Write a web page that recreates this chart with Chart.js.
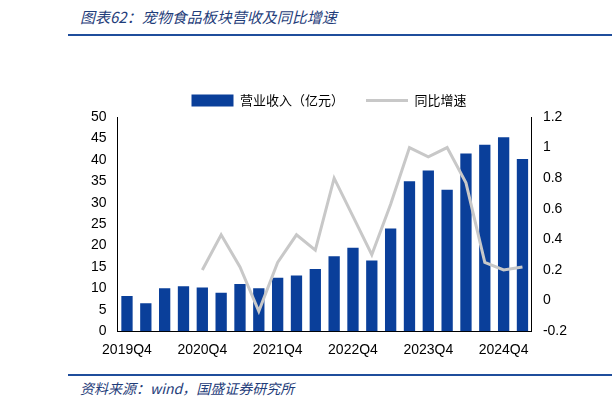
<!DOCTYPE html>
<html><head><meta charset="utf-8">
<script src="https://cdn.jsdelivr.net/npm/chart.js@4/dist/chart.umd.min.js"></script>
<style>
body{margin:0;width:612px;height:411px;background:#fff;position:relative;font-family:"Noto Sans CJK SC",sans-serif;overflow:hidden}
#t{position:absolute;left:80px;top:6px;font-size:15px;font-style:italic;color:#1f3d7a}
#l1{position:absolute;left:68px;top:34px;width:544px;height:2px;background:#1f4e9c}
#l2{position:absolute;left:68px;top:374px;width:544px;height:2px;background:#1f4e9c}
#s{position:absolute;left:80px;top:378px;font-size:14px;font-style:italic;color:#1f3d7a}
#c{position:absolute;left:88px;top:72px;width:482px;height:290px}
</style></head><body>
<div id="t">图表62：宠物食品板块营收及同比增速</div>
<div id="l1"></div>
<div id="c"><canvas id="cv"></canvas></div>
<div id="l2"></div>
<div id="s">资料来源：wind，国盛证券研究所</div>
<script>
const categories=["2019Q4","2020Q1","2020Q2","2020Q3","2020Q4","2021Q1","2021Q2","2021Q3","2021Q4","2022Q1","2022Q2","2022Q3","2022Q4","2023Q1","2023Q2","2023Q3","2023Q4","2024Q1","2024Q2","2024Q3","2024Q4","2025Q1"];
const revenue=[8.2,6.5,10,10.5,10.2,9,11,10,12.5,13,14.5,17.5,19.5,16.5,24,35,37.5,33,41.5,43.5,45.3,40.2];
const yoy=[null,null,null,null,0.2,0.43,0.22,-0.07,0.25,0.43,0.33,0.8,0.55,0.3,0.63,1.0,0.94,1.0,0.77,0.25,0.2,0.22];
const f={family:"'Liberation Sans','Noto Sans CJK SC',sans-serif",size:14};
new Chart(document.getElementById('cv'),{
data:{labels:categories,datasets:[
{type:'line',label:'同比增速',data:yoy,yAxisID:'y1',borderColor:'#c8c8c8',borderWidth:3,pointRadius:0,order:0,backgroundColor:'#c8c8c8',pointStyle:'line'},
{type:'bar',label:'营业收入（亿元）',data:revenue,yAxisID:'y',backgroundColor:'#0a3f9a',categoryPercentage:0.6,barPercentage:1,order:1,pointStyle:'rect'}
]},
options:{responsive:true,maintainAspectRatio:false,animation:false,
plugins:{legend:{reverse:true,labels:{font:{family:"'Noto Sans CJK SC'",size:13},color:'#000',usePointStyle:true,pointStyleWidth:42,boxHeight:12,padding:22}},tooltip:{enabled:false}},
scales:{
x:{grid:{display:false},border:{color:'#000'},ticks:{color:'#000',font:f,maxRotation:0,autoSkip:false,callback:(v,i)=>i%4===0?categories[i]:''}},
y:{min:0,max:50,ticks:{stepSize:5,color:'#000',font:f},grid:{display:false},border:{color:'#000'}},
y1:{position:'right',min:-0.2,max:1.2,ticks:{stepSize:0.2,color:'#000',font:f,callback:v=>Math.round(v*10)/10},grid:{display:false},border:{color:'#000'}}
}}});
</script></body></html>
